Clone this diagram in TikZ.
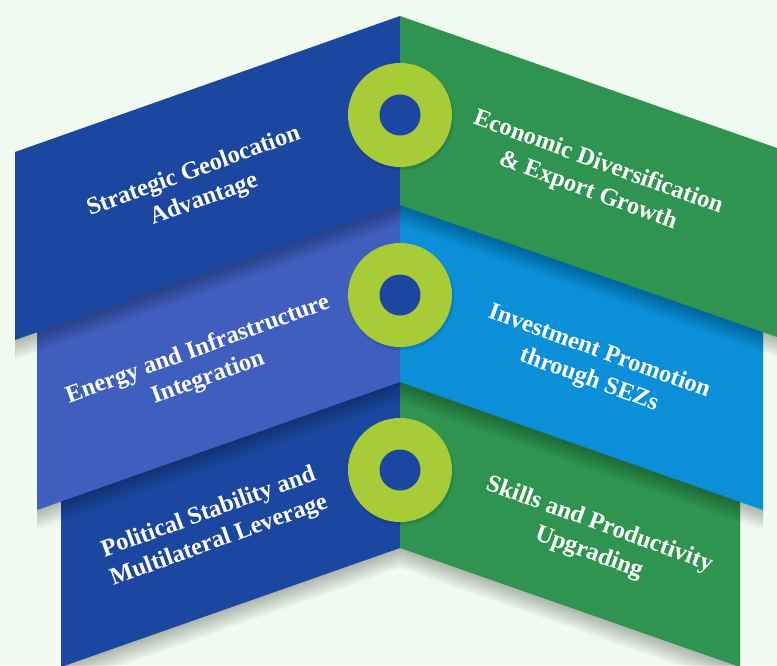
\documentclass[tikz,border=0pt]{standalone}
\usepackage{fontspec}
\setmainfont{Liberation Serif}

\definecolor{bgmint}{HTML}{F0FAF0}
\definecolor{deepblue}{HTML}{1B47A0}
\definecolor{midblue}{HTML}{3F5EBE}
\definecolor{skyblue}{HTML}{0A8FD8}
\definecolor{leafgreen}{HTML}{2E9450}
\definecolor{ringlime}{HTML}{A8CC38}

\newcommand{\labelfont}{\bfseries\fontsize{24.5}{30}\selectfont}

% panel outlines, one pixel = one point, y grows downwards
\def\panelTL{(15,152) -- (400,16) -- (400,205) -- (15,340) -- cycle}
\def\panelTR{(400,16) -- (777,148) -- (777,337) -- (400,205) -- cycle}
\def\panelML{(37,300) -- (400,172) -- (400,382) -- (37,510) -- cycle}
\def\panelMR{(400,172) -- (763,299) -- (763,510) -- (400,382) -- cycle}
\def\panelBL{(61,480) -- (400,362) -- (400,548) -- (61,667) -- cycle}
\def\panelBR{(400,362) -- (740,481) -- (740,667) -- (400,548) -- cycle}

\begin{document}
\begin{tikzpicture}[x=1pt,y=-1pt]
\tikzset{
  dropshade/.style={fill=black,fill opacity=0.026},
  ringouter/.style={circle,fill=ringlime,minimum size=104pt,inner sep=0pt},
  ringinner/.style={circle,fill=deepblue,minimum size=41pt,inner sep=0pt},
  leftlabel/.style={text=white,font=\labelfont,align=center,rotate=20},
  rightlabel/.style={text=white,font=\labelfont,align=center,rotate=-20}
}
\useasboundingbox (0,0) rectangle (777,665);
\fill[bgmint] (0,0) rectangle (777,665);
\clip (0,0) rectangle (777,665);

% bottom row
\foreach \k in {2,4,...,20} {
  \fill[dropshade,shift={(0,\k)}] \panelBL;
  \fill[dropshade,shift={(0,\k)}] \panelBR;
}
\fill[deepblue] \panelBL;
\fill[leafgreen] \panelBR;

% middle row
\foreach \k in {2,4,...,20} {
  \fill[dropshade,shift={(0,\k)}] \panelML;
  \fill[dropshade,shift={(0,\k)}] \panelMR;
}
\fill[midblue] \panelML;
\fill[skyblue] \panelMR;

% top row
\foreach \k in {2,4,...,20} {
  \fill[dropshade,shift={(0,\k)}] \panelTL;
  \fill[dropshade,shift={(0,\k)}] \panelTR;
}
\fill[deepblue] \panelTL;
\fill[leafgreen] \panelTR;

% rings on the fold
\foreach \y/\n in {115/1,295/2,470/3} {
  \fill[black,opacity=0.1] (401,\y+2) circle (53);
  \node[ringouter] (ring_\n) at (400,\y) {};
  \node[ringinner] (hole_\n) at (ring_\n) {};
}

\node[leftlabel] (lbl_geo) at (199,186) {Strategic Geolocation\\Advantage};
\node[leftlabel] (lbl_energy) at (203,364) {Energy and Infrastructure\\Integration};
\node[leftlabel] (lbl_policy) at (214,527) {Political Stability and\\Multilateral Leverage};
\node[rightlabel] (lbl_econ) at (593,177) {Economic Diversification\\\& Export Growth};
\node[rightlabel] (lbl_invest) at (594,366) {Investment Promotion\\through SEZs};
\node[rightlabel] (lbl_skills) at (594,539) {Skills and Productivity\\Upgrading};
\end{tikzpicture}
\end{document}
